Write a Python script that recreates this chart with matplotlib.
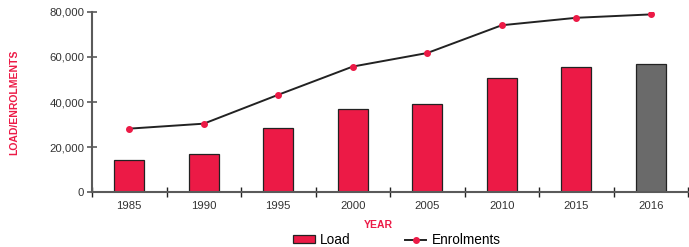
import matplotlib
matplotlib.use('Agg')
import matplotlib.pyplot as plt
import numpy as np

plt.rcParams['font.family'] = ['Liberation Sans', 'DejaVu Sans']

years = ['1985', '1990', '1995', '2000', '2005', '2010', '2015', '2016']
load = [14100, 16800, 28600, 37000, 39200, 50600, 55700, 56900]
enrolments = [28200, 30400, 43200, 55700, 61700, 74000, 77300, 78800]

red = '#EC1A46'
grey = '#6A6A6A'
axis_col = '#5A5A5A'

fig = plt.figure(figsize=(6.89, 2.47), dpi=100)
ax = fig.add_axes([92 / 689, 1 - 192.3 / 247, (688 - 92) / 689, (192.3 - 11.7) / 247])

x = np.arange(len(years))
colors = [red] * (len(years) - 1) + [grey]
bars = ax.bar(x, load, width=0.4, color=colors, edgecolor='#222222', linewidth=0.9, zorder=2, label='Load')
ax.plot(x, enrolments, color='#222222', lw=1.4, marker='o', ms=4, mfc=red, mec=red, zorder=3, label='Enrolments')

ax.set_xlim(-0.5, len(years) - 0.5)
ax.set_ylim(0, 80000)

# y axis
ax.set_yticks(np.arange(0, 80001, 20000))
ax.set_yticklabels([f'{v:,}' for v in range(0, 80001, 20000)])
ax.tick_params(axis='y', direction='inout', length=7, width=1.2, color=axis_col,
               labelsize=8.2, labelcolor='#333333', pad=2)

# x axis: labels at centres, ticks at category edges
ax.set_xticks(x)
ax.set_xticklabels(years)
ax.set_xticks(np.arange(-0.5, len(years)), minor=True)
ax.tick_params(axis='x', which='major', length=0, labelsize=8.2, labelcolor='#333333', pad=6)
ax.tick_params(axis='x', which='minor', direction='inout', length=7, width=1.0, color='#222222')

for side in ['top', 'right']:
    ax.spines[side].set_visible(False)
for side in ['left', 'bottom']:
    ax.spines[side].set_color(axis_col)
    ax.spines[side].set_linewidth(1.5)

ax.set_ylabel('LOAD/ENROLMENTS', color=red, fontsize=7.5, fontweight='bold')
ax.yaxis.set_label_coords(-0.122, 0.5)
ax.set_xlabel('YEAR', color=red, fontsize=7.5, fontweight='bold')
ax.xaxis.set_label_coords((378 - 92) / (688 - 92), -0.155)

fig.legend(handles=[bars, ax.lines[0]], labels=['Load', 'Enrolments'], loc='center',
           bbox_to_anchor=(397 / 689, 1 - 240 / 247), ncol=2, frameon=False, fontsize=9.8,
           handlelength=1.55, handleheight=0.5, columnspacing=4.0, handletextpad=0.4,
           borderpad=0.2)

fig.savefig('out.png', dpi=100)
